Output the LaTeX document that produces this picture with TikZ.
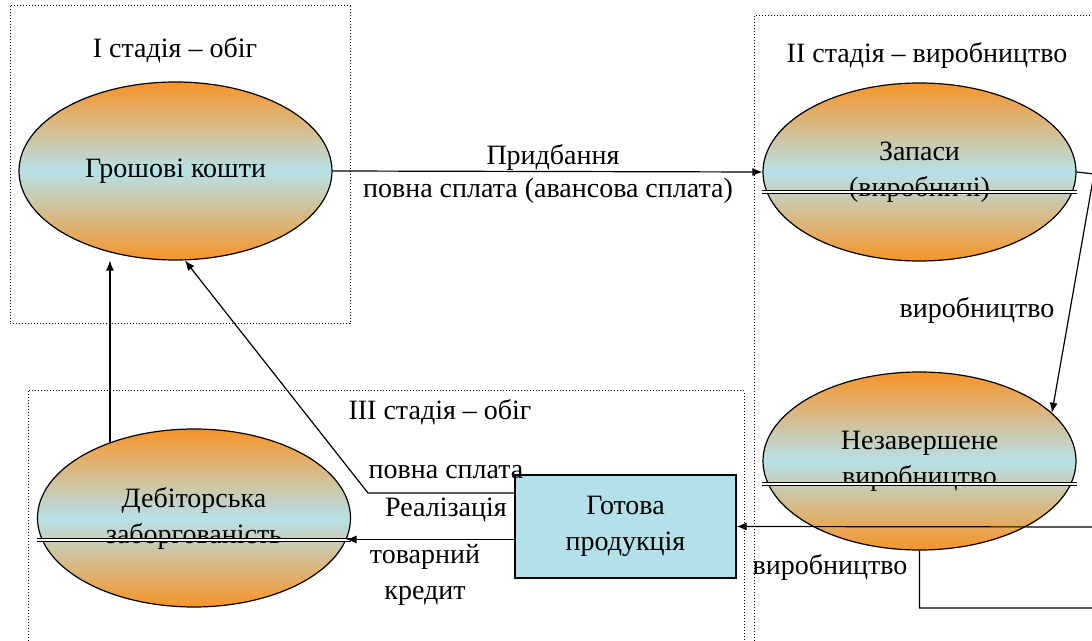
\documentclass[tikz,border=0pt]{standalone}
\usepackage{fontspec}
\setmainfont{Liberation Serif}
\usetikzlibrary{shapes.geometric,arrows.meta}
\definecolor{stageorange}{RGB}{247,148,40}
\definecolor{stageblue}{RGB}{183,225,233}
\definecolor{goodsblue}{RGB}{180,224,234}
\tikzset{
  stage/.style={ellipse,draw,line width=0.6pt,minimum width=156.5pt,minimum height=89pt,inner sep=0pt,
    top color=stageorange,bottom color=stageorange,middle color=stageblue,align=center},
  zone/.style={densely dotted,line width=0.5pt},
  arr/.style={-{Latex[length=5pt,width=4pt]},line width=0.6pt},
  twin/.style={double,double distance=0.7pt,line width=0.5pt},
}
\begin{document}
\begin{tikzpicture}[x=0.5pt,y=-0.5pt,font=\fontsize{14}{18}\selectfont]
\useasboundingbox (0,0) rectangle (1092,641);
% stages
\draw[zone] (10,6) rectangle (350,324);
\draw[zone] (754,16) rectangle (1100,660);
\draw[zone] (28,391) rectangle (744,660);
\node (s1) at (175,50) {I стадія -- обіг};
\node (s2) at (927,55) {II стадія -- виробництво};
\node (s3) at (440,412) {III стадія -- обіг};
% assets
\node[stage] (money) at (175.5,171) {Грошові кошти};
\node[stage] (stock) at (919.5,172) {Запаси\\(виробничі)};
\node[stage] (wip) at (919.5,461) {Незавершене\\виробництво};
\node[stage] (debt) at (194,518) {Дебіторська\\заборгованість};
\node[draw,line width=0.6pt,fill=goodsblue,minimum width=110.5pt,minimum height=51.5pt,align=center]
  (goods) at (625.5,526.5) {Готова\\продукція};
\draw[twin] ([yshift=-10pt]stock.west) -- ([yshift=-10pt]stock.east);
\draw[twin] ([yshift=-11.5pt]wip.west) -- ([yshift=-11.5pt]wip.east);
\draw[twin] ([yshift=-11pt]debt.west) -- ([yshift=-11pt]debt.east);
% purchase
\draw[arr] (money.east) -- (stock.west);
\node (l1) at (553,157) {Придбання};
\node (l2) at (548,191) {повна сплата (авансова сплата)};
% production
\coordinate (c1) at (1094,174);
\draw[arr] (stock.east) -- (c1) -- (wip.20);
\node (l3) at (977,310) {виробництво};
\coordinate (c2) at (1100,608);
\coordinate (c3) at (1100,527);
\draw[arr] (wip.south) |- (c2) -- (c3) -- (goods.east);
\node (l4) at (830,567) {виробництво};
% sale
\coordinate (c4) at (368,493);
\draw[arr] (goods.west |- c4) -- (c4) -- (money.-84);
\node (l5) at (446,472) {повна сплата};
\node (l6) at (446,510) {Реалізація};
\draw[arr] (goods.west |- debt.-8) -- (debt.-8);
\node[align=center] (l7) at (425,575) {товарний\\кредит};
\draw[arr] (debt.138) -- (debt.138 |- money.south);
\end{tikzpicture}
\end{document}
